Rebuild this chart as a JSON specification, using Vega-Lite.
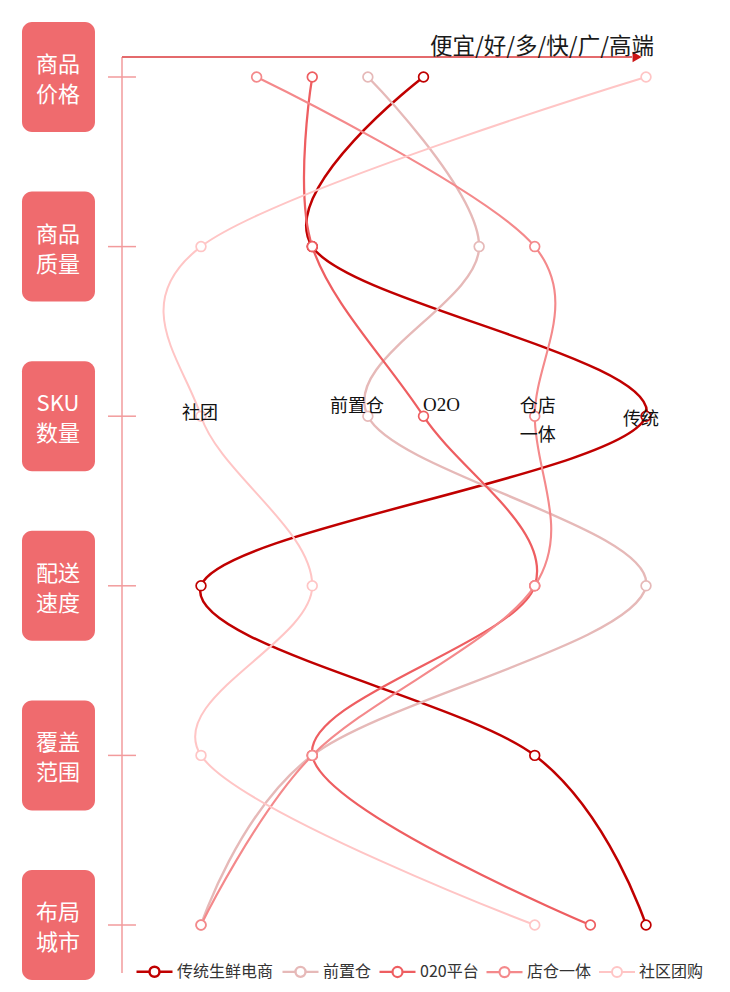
{
  "$schema": "https://vega.github.io/schema/vega-lite/v6.json",
  "width": 520,
  "height": 916,
  "autosize": {"type": "none"},
  "padding": {"left": 122, "top": 57, "right": 88, "bottom": 19},
  "background": "white",
  "config": {"view": {"stroke": null}, "font": "Noto Sans CJK SC"},
  "datasets": {
    "dims": [
      {"dim": "商品价格", "label": "商品\n价格", "idx": 0},
      {"dim": "商品质量", "label": "商品\n质量", "idx": 1},
      {"dim": "SKU数量", "label": "SKU\n数量", "idx": 2},
      {"dim": "配送速度", "label": "配送\n速度", "idx": 3},
      {"dim": "覆盖范围", "label": "覆盖\n范围", "idx": 4},
      {"dim": "布局城市", "label": "布局\n城市", "idx": 5}
    ],
    "series": [
      {"series": "传统生鲜电商", "dim": "商品价格", "idx": 0, "v": 5},
      {"series": "传统生鲜电商", "dim": "商品质量", "idx": 1, "v": 3},
      {"series": "传统生鲜电商", "dim": "SKU数量", "idx": 2, "v": 9},
      {"series": "传统生鲜电商", "dim": "配送速度", "idx": 3, "v": 1},
      {"series": "传统生鲜电商", "dim": "覆盖范围", "idx": 4, "v": 7},
      {"series": "传统生鲜电商", "dim": "布局城市", "idx": 5, "v": 9},
      {"series": "前置仓", "dim": "商品价格", "idx": 0, "v": 4},
      {"series": "前置仓", "dim": "商品质量", "idx": 1, "v": 6},
      {"series": "前置仓", "dim": "SKU数量", "idx": 2, "v": 4},
      {"series": "前置仓", "dim": "配送速度", "idx": 3, "v": 9},
      {"series": "前置仓", "dim": "覆盖范围", "idx": 4, "v": 3},
      {"series": "前置仓", "dim": "布局城市", "idx": 5, "v": 1},
      {"series": "020平台", "dim": "商品价格", "idx": 0, "v": 3},
      {"series": "020平台", "dim": "商品质量", "idx": 1, "v": 3},
      {"series": "020平台", "dim": "SKU数量", "idx": 2, "v": 5},
      {"series": "020平台", "dim": "配送速度", "idx": 3, "v": 7},
      {"series": "020平台", "dim": "覆盖范围", "idx": 4, "v": 3},
      {"series": "020平台", "dim": "布局城市", "idx": 5, "v": 8},
      {"series": "店仓一体", "dim": "商品价格", "idx": 0, "v": 2},
      {"series": "店仓一体", "dim": "商品质量", "idx": 1, "v": 7},
      {"series": "店仓一体", "dim": "SKU数量", "idx": 2, "v": 7},
      {"series": "店仓一体", "dim": "配送速度", "idx": 3, "v": 7},
      {"series": "店仓一体", "dim": "覆盖范围", "idx": 4, "v": 3},
      {"series": "店仓一体", "dim": "布局城市", "idx": 5, "v": 1},
      {"series": "社区团购", "dim": "商品价格", "idx": 0, "v": 9},
      {"series": "社区团购", "dim": "商品质量", "idx": 1, "v": 1},
      {"series": "社区团购", "dim": "SKU数量", "idx": 2, "v": 1},
      {"series": "社区团购", "dim": "配送速度", "idx": 3, "v": 3},
      {"series": "社区团购", "dim": "覆盖范围", "idx": 4, "v": 1},
      {"series": "社区团购", "dim": "布局城市", "idx": 5, "v": 7}
    ]
  },
  "layer": [
    {
      "data": {"name": "dims"},
      "mark": {"type": "rect", "fill": "#ef6b6e", "cornerRadius": 10, "yOffset": -55, "y2Offset": 55},
      "encoding": {
        "x": {"datum": -2.218, "type": "quantitative", "scale": {"domain": [-0.4202, 8.928], "nice": false, "zero": false}, "axis": null},
        "x2": {"datum": -0.906},
        "y": {"field": "idx", "type": "quantitative", "scale": {"domain": [-0.1179, 5.283], "reverse": true, "nice": false, "zero": false}, "axis": null},
        "y2": {"field": "idx"}
      }
    },
    {
      "data": {"name": "dims"},
      "mark": {"type": "text", "fill": "white", "fontSize": 22, "lineBreak": "\n", "lineHeight": 30, "baseline": "middle", "align": "center", "dy": -12},
      "encoding": {
        "x": {"datum": -1.571, "type": "quantitative"},
        "y": {"field": "idx", "type": "quantitative"},
        "text": {"field": "label"}
      }
    },
    {
      "data": {"name": "dims"},
      "mark": {"type": "rule", "stroke": "#f29b9c", "strokeWidth": 1.5},
      "encoding": {
        "x": {"datum": -0.672, "type": "quantitative"},
        "x2": {"datum": -0.169},
        "y": {"field": "idx", "type": "quantitative"}
      }
    },
    {
      "data": {"values": [{}]},
      "mark": {"type": "rule", "stroke": "#f29b9c", "strokeWidth": 1.5},
      "encoding": {
        "x": {"datum": -0.4202, "type": "quantitative"},
        "y": {"datum": -0.1179, "type": "quantitative"},
        "y2": {"datum": 5.283}
      }
    },
    {
      "data": {"values": [{}]},
      "mark": {"type": "rule", "stroke": "#e46a6c", "strokeWidth": 2},
      "encoding": {
        "x": {"datum": -0.4202, "type": "quantitative"},
        "x2": {"datum": 8.75},
        "y": {"datum": -0.1179, "type": "quantitative"}
      }
    },
    {
      "data": {"values": [{}]},
      "mark": {"type": "point", "shape": "triangle-right", "filled": true, "fill": "#cc1414", "size": 110, "opacity": 1},
      "encoding": {
        "x": {"datum": 8.84, "type": "quantitative"},
        "y": {"datum": -0.1179, "type": "quantitative"}
      }
    },
    {
      "data": {"values": [{"t": "便宜/好/多/快/广/高端"}]},
      "mark": {"type": "text", "fontSize": 22.5, "fill": "#1a1a1a", "align": "right", "baseline": "middle"},
      "encoding": {
        "x": {"datum": 9.144, "type": "quantitative"},
        "y": {"datum": -0.177, "type": "quantitative"},
        "text": {"field": "t"}
      }
    },
    {
      "data": {"name": "series"},
      "mark": {"type": "line", "interpolate": "cardinal", "tension": 0},
      "encoding": {
        "x": {"field": "v", "type": "quantitative"},
        "y": {"field": "idx", "type": "quantitative"},
        "order": {"field": "idx"},
        "stroke": {
          "field": "series", "type": "nominal",
          "scale": {"domain": ["传统生鲜电商", "前置仓", "020平台", "店仓一体", "社区团购"], "range": ["#c00000", "#e6b9b8", "#ee5e61", "#f4898b", "#ffc5c5"]},
          "legend": {
            "orient": "none", "legendX": 13, "legendY": 895, "direction": "horizontal", "title": null,
            "symbolType": "M-1,0H-0.278M0.278,0H1M-0.278,0A0.278,0.278,0,1,1,0.278,0A0.278,0.278,0,1,1,-0.278,0",
            "symbolSize": 1296, "symbolStrokeWidth": 2.5, "symbolFillColor": "white",
            "labelFontSize": 16, "labelColor": "#333333", "labelOffset": 3, "columnPadding": 3, "padding": 0,
            "labelFont": "Noto Sans CJK SC"
          }
        },
        "strokeWidth": {
          "field": "series", "type": "nominal",
          "scale": {"domain": ["传统生鲜电商", "前置仓", "020平台", "店仓一体", "社区团购"], "range": [2.5, 2, 2, 2, 2]},
          "legend": null
        }
      }
    },
    {
      "data": {"name": "series"},
      "mark": {"type": "point", "filled": false, "fill": "white", "fillOpacity": 1, "opacity": 1, "size": 95, "strokeWidth": 1.7},
      "encoding": {
        "x": {"field": "v", "type": "quantitative"},
        "y": {"field": "idx", "type": "quantitative"},
        "stroke": {"field": "series", "type": "nominal", "legend": null}
      }
    },
    {
      "data": {"values": [{"t": "社团"}]},
      "mark": {"type": "text", "fontSize": 18, "fill": "#111111", "align": "center", "baseline": "middle", "dx": -1, "dy": -2},
      "encoding": {"x": {"datum": 1, "type": "quantitative"}, "y": {"datum": 2, "type": "quantitative"}, "text": {"field": "t"}}
    },
    {
      "data": {"values": [{"t": "前置仓"}]},
      "mark": {"type": "text", "fontSize": 18, "fill": "#111111", "align": "center", "baseline": "middle", "dx": -11, "dy": -9},
      "encoding": {"x": {"datum": 4, "type": "quantitative"}, "y": {"datum": 2, "type": "quantitative"}, "text": {"field": "t"}}
    },
    {
      "data": {"values": [{"t": "O2O"}]},
      "mark": {"type": "text", "fontSize": 19, "fill": "#111111", "align": "center", "baseline": "middle", "dx": 18, "dy": -11, "font": "Liberation Serif"},
      "encoding": {"x": {"datum": 5, "type": "quantitative"}, "y": {"datum": 2, "type": "quantitative"}, "text": {"field": "t"}}
    },
    {
      "data": {"values": [{"t": "仓店\n一体"}]},
      "mark": {"type": "text", "fontSize": 18, "fill": "#111111", "align": "center", "baseline": "middle", "dx": 3, "dy": -9, "lineBreak": "\n", "lineHeight": 29},
      "encoding": {"x": {"datum": 7, "type": "quantitative"}, "y": {"datum": 2, "type": "quantitative"}, "text": {"field": "t"}}
    },
    {
      "data": {"values": [{"t": "传统"}]},
      "mark": {"type": "text", "fontSize": 18, "fill": "#111111", "align": "center", "baseline": "middle", "dx": -5, "dy": 4},
      "encoding": {"x": {"datum": 9, "type": "quantitative"}, "y": {"datum": 2, "type": "quantitative"}, "text": {"field": "t"}}
    }
  ]
}
